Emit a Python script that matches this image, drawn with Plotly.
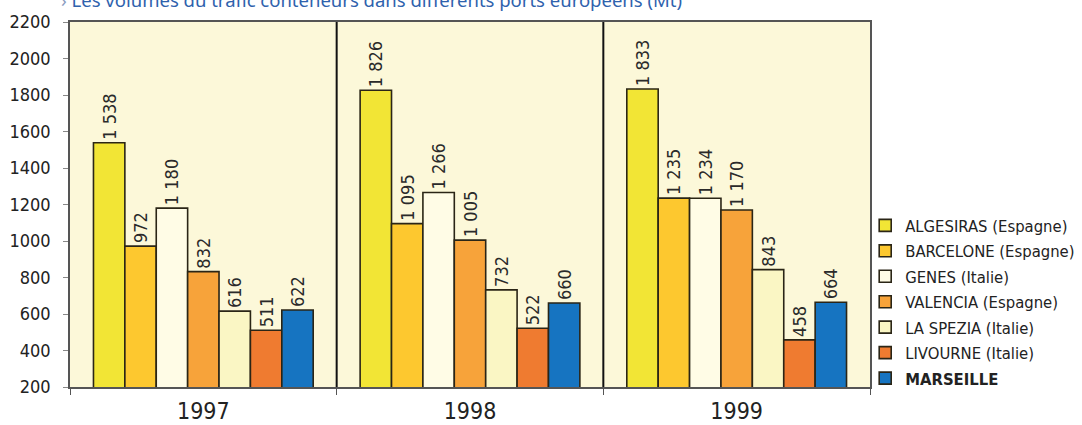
import plotly.graph_objects as go

# Container traffic (Mt) per port and year
years = ["1997", "1998", "1999"]
ports = [
    "ALGESIRAS (Espagne)",
    "BARCELONE (Espagne)",
    "GENES (Italie)",
    "VALENCIA (Espagne)",
    "LA SPEZIA (Italie)",
    "LIVOURNE (Italie)",
    "MARSEILLE",
]
algesiras = [1538, 1826, 1833]
barcelone = [972, 1095, 1235]
genes = [1180, 1266, 1234]
valencia = [832, 1005, 1170]
la_spezia = [616, 732, 843]
livourne = [511, 522, 458]
marseille = [622, 660, 664]

series = [algesiras, barcelone, genes, valencia, la_spezia, livourne, marseille]
colors = ["#f2e535", "#fdc82f", "#fffce6", "#f7a33a", "#faf6c4", "#ef7b30", "#1674c1"]

LABEL_FONT = "DejaVu Sans Condensed, Liberation Sans, sans-serif"


def fmt(v):
    # French style thousands separator
    return f"{v:,}".replace(",", " ")


fig = go.Figure()
for i, (name, vals, col) in enumerate(zip(ports, series, colors)):
    shown = f"<b>{name}</b>" if name == "MARSEILLE" else name
    fig.add_trace(go.Bar(
        x=years,
        y=vals,
        name=shown,
        legendgroup=f"g{i}",
        marker=dict(color=col, line=dict(color="#2a2516", width=1.6)),
        text=[fmt(v) for v in vals],
        textposition="outside",
        textangle=-90,
        constraintext="none",
        cliponaxis=False,
        textfont=dict(family=LABEL_FONT, size=18, color="#2a2a2a"),
        hoverinfo="skip",
    ))

# vertical separators between the year groups
for xb in (0.5, 1.5):
    fig.add_shape(type="line", xref="x", yref="y", x0=xb, x1=xb, y0=200, y1=2200,
                  line=dict(color="#111111", width=2))

fig.add_annotation(
    xref="paper", yref="paper", x=-0.014, y=1, xanchor="left", yanchor="bottom",
    yshift=8, showarrow=False,
    text="<span style='color:#8a9cbf'>›</span> Les volumes du trafic conteneurs dans différents ports européens (Mt)",
    font=dict(family="Noto Sans", size=18.5, color="#2f62ad"),
)

fig.update_layout(
    width=1082, height=425,
    margin=dict(l=70, r=212, t=22, b=38, autoexpand=False),
    paper_bgcolor="white",
    plot_bgcolor="#fcf8d9",
    barmode="group",
    bargap=0.176,
    bargroupgap=0,
    showlegend=True,
    legend=dict(
        x=0.994, xanchor="left", y=0.49, yanchor="top",
        font=dict(family=LABEL_FONT, size=16.5, color="#222222"),
        traceorder="grouped", tracegroupgap=1,
        bgcolor="rgba(0,0,0,0)",
    ),
    xaxis=dict(
        type="category",
        automargin=False,
        showgrid=False,
        showline=True, linecolor="#555555", linewidth=1.5, mirror=True,
        ticks="outside", tickson="boundaries", ticklen=6, tickcolor="#555555",
        ticklabelstandoff=3,
        tickfont=dict(family=LABEL_FONT, size=23, color="#222222"),
    ),
    yaxis=dict(
        automargin=False,
        range=[200, 2200],
        dtick=200,
        showgrid=False,
        showline=True, linecolor="#555555", linewidth=1.5, mirror=True,
        ticks="outside", ticklen=5, tickcolor="#888888",
        ticklabelstandoff=9,
        tickfont=dict(family=LABEL_FONT, size=18, color="#222222"),
    ),
)

fig.write_html("out.html")
